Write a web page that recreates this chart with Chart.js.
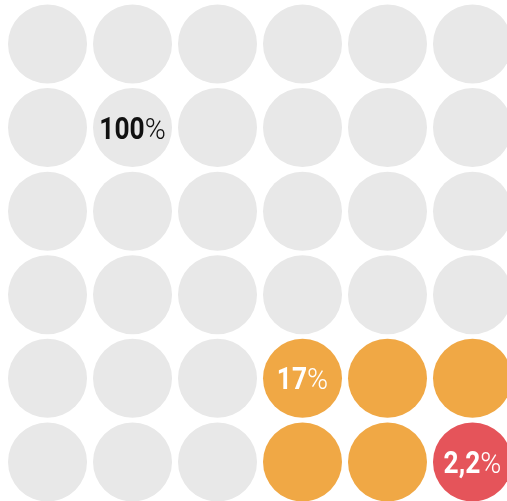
<!DOCTYPE html>
<html lang="de">
<head>
<meta charset="UTF-8">
<title>Chart</title>
<script src="https://cdn.jsdelivr.net/npm/chart.js"></script>
<style>
  html, body { margin: 0; padding: 0; background: #fff; }
  #wrap { width: 507px; height: 501px; }
</style>
</head>
<body>
<div id="wrap"><canvas id="myChart"></canvas></div>
<script>
// grid of 6 x 6 dots, each dot = 1/36 of the total
const gridCols = 6;
const gridRows = 6;
const shareLabels = ['100%', '17%', '2,2%'];
// cells [col, row] of the highlighted shares
const orangeCells = [[3, 4], [4, 4], [5, 4], [3, 5], [4, 5]];
const redCells = [[5, 5]];
// cell where each share label sits
const labelCells = [[1, 1], [3, 4], [5, 5]];
const labelColors = ['#111111', '#ffffff', '#ffffff'];

const taken = new Set(orangeCells.concat(redCells).map(c => c[0] + ',' + c[1]));
const grayPts = [];
for (let r = 0; r < gridRows; r++) {
  for (let c = 0; c < gridCols; c++) {
    if (!taken.has(c + ',' + r)) grayPts.push({x: c, y: r});
  }
}
const toPts = cells => cells.map(c => ({x: c[0], y: c[1]}));

// digits bold + condensed, % light
const NUM_FONT = 'bold 31px Roboto';
const PCT_FONT = '300 30px Roboto';
const SQUEEZE = 0.85;

const shareText = {
  id: 'shareText',
  afterDatasetsDraw(chart) {
    const ctx = chart.ctx;
    const xs = chart.scales.x, ys = chart.scales.y;
    ctx.save();
    ctx.textBaseline = 'alphabetic';
    ctx.textAlign = 'left';
    for (let i = 0; i < shareLabels.length; i++) {
      const cx = xs.getPixelForValue(labelCells[i][0]);
      const cy = ys.getPixelForValue(labelCells[i][1]);
      const num = shareLabels[i].replace('%', '');
      ctx.font = NUM_FONT;
      const w1 = ctx.measureText(num).width * SQUEEZE;
      ctx.font = PCT_FONT;
      const w2 = ctx.measureText('%').width * 0.95;
      const x = cx - (w1 + w2) / 2;
      const base = cy + 11;
      ctx.fillStyle = labelColors[i];
      ctx.save();
      ctx.translate(x, base);
      ctx.scale(SQUEEZE, 1);
      ctx.font = NUM_FONT;
      ctx.fillText(num, 0, 0);
      ctx.restore();
      ctx.save();
      ctx.translate(x + w1, base);
      ctx.scale(0.95, 1);
      ctx.font = PCT_FONT;
      ctx.fillText('%', 0, 0);
      ctx.restore();
    }
    ctx.restore();
  }
};

new Chart(document.getElementById('myChart'), {
  type: 'scatter',
  data: {
    datasets: [
      { data: grayPts, backgroundColor: '#e8e8e8' },
      { data: toPts(orangeCells), backgroundColor: '#f0a845' },
      { data: toPts(redCells), backgroundColor: '#e5545a' }
    ]
  },
  options: {
    responsive: true,
    maintainAspectRatio: false,
    animation: false,
    layout: { padding: 0, autoPadding: false },
    datasets: {
      scatter: { pointRadius: 39.5, pointHoverRadius: 39.5, pointBorderWidth: 0, clip: false }
    },
    plugins: { legend: { display: false }, tooltip: { enabled: false } },
    events: [],
    scales: {
      x: { display: false, min: -0.559, max: 5.406 },
      y: { display: false, reverse: true, min: -0.526, max: 5.467 }
    }
  },
  plugins: [shareText]
});
</script>
</body>
</html>
